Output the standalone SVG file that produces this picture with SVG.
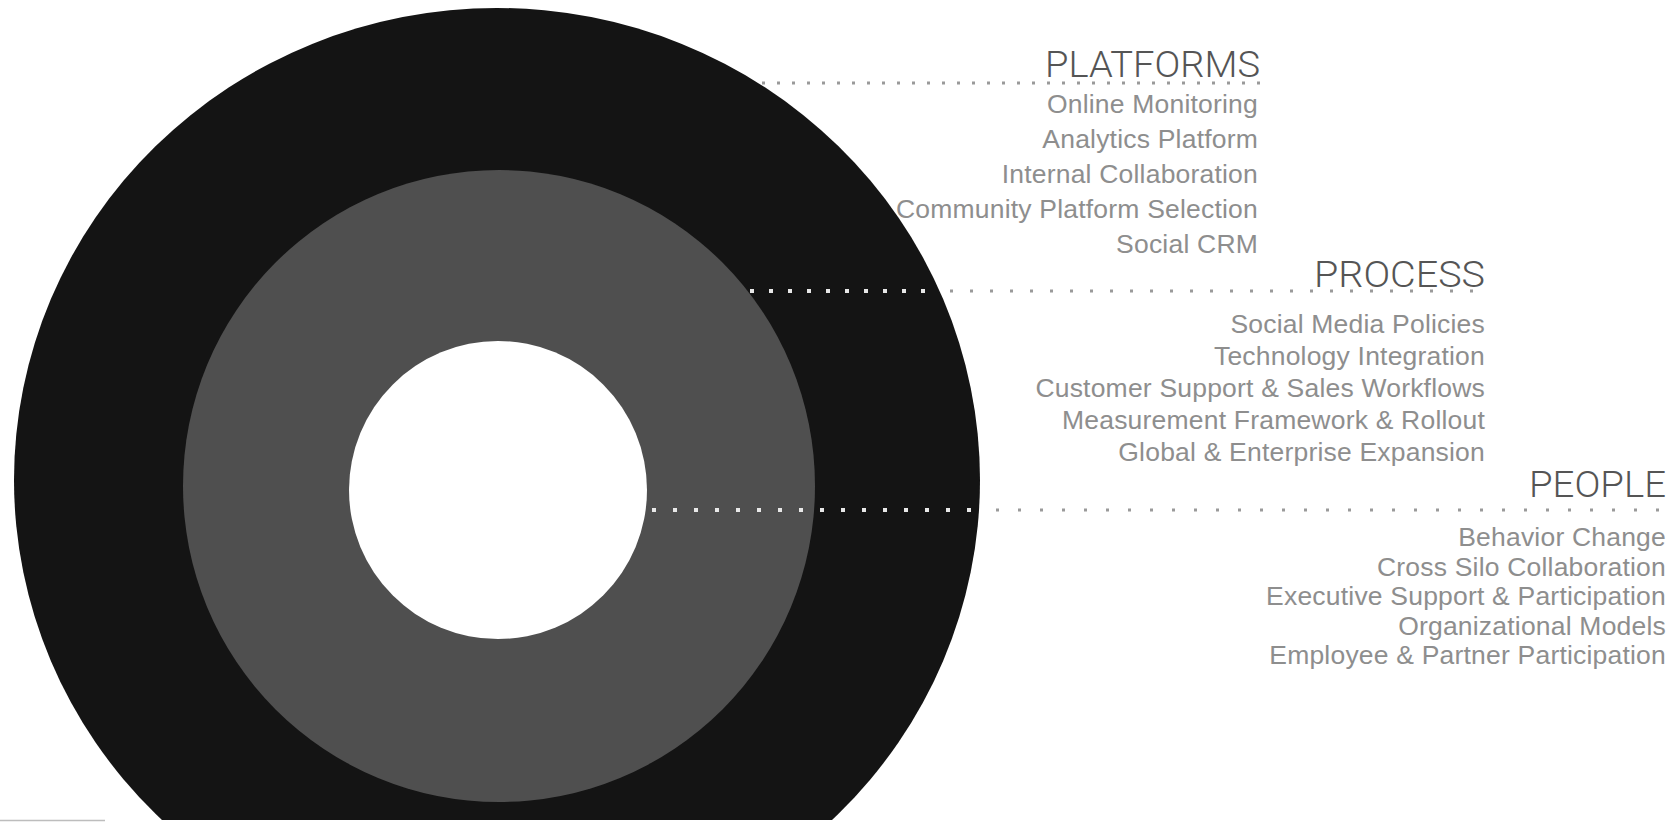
<svg xmlns="http://www.w3.org/2000/svg" width="1680" height="822" viewBox="0 0 1680 822">
  <style>
    .head { font-family: Roboto, "Liberation Sans", Arial, sans-serif; font-weight: 300; font-size: 37px; fill: #555555; text-anchor: end; }
    .item { font-family: "Liberation Sans", Arial, sans-serif; font-size: 26.5px; letter-spacing: 0.2px; fill: #8e8e8e; text-anchor: end; }
    .dots-in { stroke: #e8e8e8; stroke-width: 4; fill: none; }
    .dots-out { stroke: #9a9a9a; stroke-width: 3; fill: none; }
  </style>
  <defs>
    <clipPath id="cut">
      <rect x="0" y="0" width="1680" height="820"/>
    </clipPath>
  </defs>
  <rect x="0" y="0" width="1680" height="822" fill="#ffffff"/>
  <g id="rings" clip-path="url(#cut)">
    <ellipse id="ring-platforms" cx="497" cy="480" rx="483" ry="472" fill="#141414"/>
    <circle id="ring-process" cx="499" cy="486" r="316" fill="#4f4f4f"/>
    <circle id="ring-people" cx="498" cy="490" r="149" fill="#ffffff"/>
  </g>
  <line x1="0" y1="820.5" x2="105" y2="820.5" stroke="#bdbdbd" stroke-width="1.5"/>
  <g id="connectors">
    <line class="dots-out" x1="762" y1="83" x2="1260" y2="83" stroke-dasharray="3 12"/>
    <line class="dots-in" x1="750" y1="291" x2="938" y2="291" stroke-dasharray="4 15"/>
    <line class="dots-out" x1="950" y1="291" x2="1484" y2="291" stroke-dasharray="3 17"/>
    <line class="dots-in" x1="652" y1="510" x2="978" y2="510" stroke-dasharray="4 17"/>
    <line class="dots-out" x1="996" y1="510" x2="1674" y2="510" stroke-dasharray="3 19"/>
  </g>
  <g id="platforms">
    <text class="head" x="1260" y="77" textLength="215" lengthAdjust="spacingAndGlyphs">PLATFORMS</text>
    <text class="item" x="1258" y="113">Online Monitoring</text>
    <text class="item" x="1258" y="148">Analytics Platform</text>
    <text class="item" x="1258" y="183">Internal Collaboration</text>
    <text class="item" x="1258" y="218">Community Platform Selection</text>
    <text class="item" x="1258" y="253">Social CRM</text>
  </g>
  <g id="process">
    <text class="head" x="1485" y="287" textLength="171" lengthAdjust="spacingAndGlyphs">PROCESS</text>
    <text class="item" x="1485" y="333">Social Media Policies</text>
    <text class="item" x="1485" y="365">Technology Integration</text>
    <text class="item" x="1485" y="397">Customer Support &amp; Sales Workflows</text>
    <text class="item" x="1485" y="429">Measurement Framework &amp; Rollout</text>
    <text class="item" x="1485" y="461">Global &amp; Enterprise Expansion</text>
  </g>
  <g id="people">
    <text class="head" x="1666" y="497" textLength="137" lengthAdjust="spacingAndGlyphs">PEOPLE</text>
    <text class="item" x="1666" y="546">Behavior Change</text>
    <text class="item" x="1666" y="575.5">Cross Silo Collaboration</text>
    <text class="item" x="1666" y="605">Executive Support &amp; Participation</text>
    <text class="item" x="1666" y="634.5">Organizational Models</text>
    <text class="item" x="1666" y="664">Employee &amp; Partner Participation</text>
  </g>
</svg>
